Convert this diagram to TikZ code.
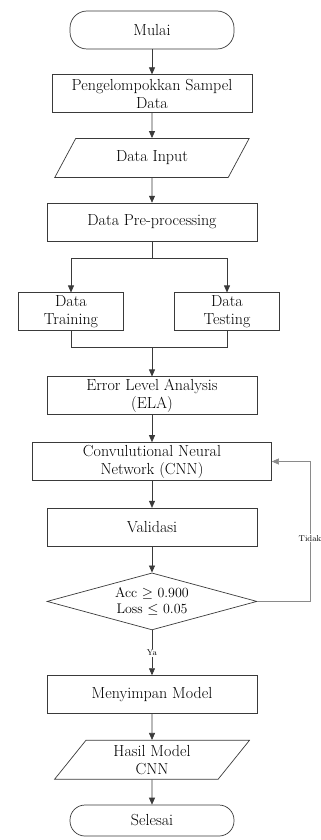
\documentclass[tikz,border=0pt]{standalone}
\usepackage{tikz}
\usetikzlibrary{arrows.meta,positioning,shapes.geometric,calc}
\definecolor{lineGray}{HTML}{3A3A3A}
\definecolor{fbGray}{HTML}{8A8A8A}

\begin{document}
\begin{tikzpicture}[
  base/.style={draw=lineGray,line width=0.7pt,align=center,font=\fontsize{16}{18}\selectfont,inner sep=2pt},
  box/.style={base,rectangle,minimum width=210pt,minimum height=38pt},
  term/.style={base,rectangle,rounded corners=17pt,minimum width=164pt,minimum height=38pt},
  io/.style={base,trapezium,trapezium left angle=60,trapezium right angle=120,trapezium stretches=true,minimum width=195pt,minimum height=39pt},
  decide/.style={base,diamond,aspect=3.7,inner sep=0pt,minimum width=210pt,minimum height=57pt,font=\fontsize{14}{16}\selectfont},
  lbl/.style={fill=white,text=black,inner sep=1pt,font=\fontsize{8.5}{9}\selectfont},
  ln/.style={line width=0.7pt,lineGray},
  arr/.style={ln,-{Triangle[length=7pt,width=6pt]}},
  fb/.style={line width=0.6pt,fbGray,-{Triangle[length=7pt,width=6pt]}}
]
\useasboundingbox (0,0) rectangle (321pt,-840pt);
\node[term] (start) at (152pt,-30pt) {Mulai};
\node[box,below=25pt of start,minimum width=200pt] (group) {Pengelompokkan Sampel\\Data};
\node[io,below=25pt of group] (input) {Data Input};
\node[box,below=25pt of input] (pre) {Data Pre-processing};
\node[box,below=51pt of pre,xshift=-81pt,minimum width=105pt] (train) {Data\\Training};
\node[box,below=51pt of pre,xshift=75pt,minimum width=105pt] (test) {Data\\Testing};
\node[box,below=135pt of pre] (ela) {Error Level Analysis\\(ELA)};
\node[box,below=27pt of ela,minimum width=239pt] (cnn) {Convulutional Neural\\Network (CNN)};
\node[box,below=27pt of cnn] (valid) {Validasi};
\node[decide,below=26pt of valid] (check) {Acc $\geq$ 0.900\\Loss $\leq$ 0.05};
\node[box,below=45pt of check] (save) {Menyimpan Model};
\node[io,below=26pt of save] (result) {Hasil Model\\CNN};
\node[term,below=25pt of result,minimum height=31pt,rounded corners=15pt] (stop) {Selesai};
\coordinate (split) at ($(pre.south)+(0,-17pt)$);
\coordinate (merge) at ($(train.south)+(0,-16pt)$);
\coordinate (fbx) at (310pt,0);
\draw[arr] (start) -- (group);
\draw[arr] (group) -- (input);
\draw[arr] (input) -- (pre);
\draw[ln] (pre.south) -- (split);
\draw[ln] (split -| train) -- (split -| test);
\draw[arr] (split -| train) -- (train);
\draw[arr] (split -| test) -- (test);
\draw[ln] (train.south) -- (merge) -- (merge -| test) -- (test.south);
\draw[arr] (merge -| ela) -- (ela);
\draw[arr] (ela) -- (cnn);
\draw[arr] (cnn) -- (valid);
\draw[arr] (valid) -- (check);
\draw[arr] (check) -- node[lbl] {Ya} (save);
\draw[fb] (check.east) -- (check.east -| fbx) -- node[lbl,pos=0.45] {Tidak} (cnn.east -| fbx) -- (cnn.east);
\draw[arr] (save) -- (result);
\draw[arr] (result) -- (stop);
\end{tikzpicture}
\end{document}
